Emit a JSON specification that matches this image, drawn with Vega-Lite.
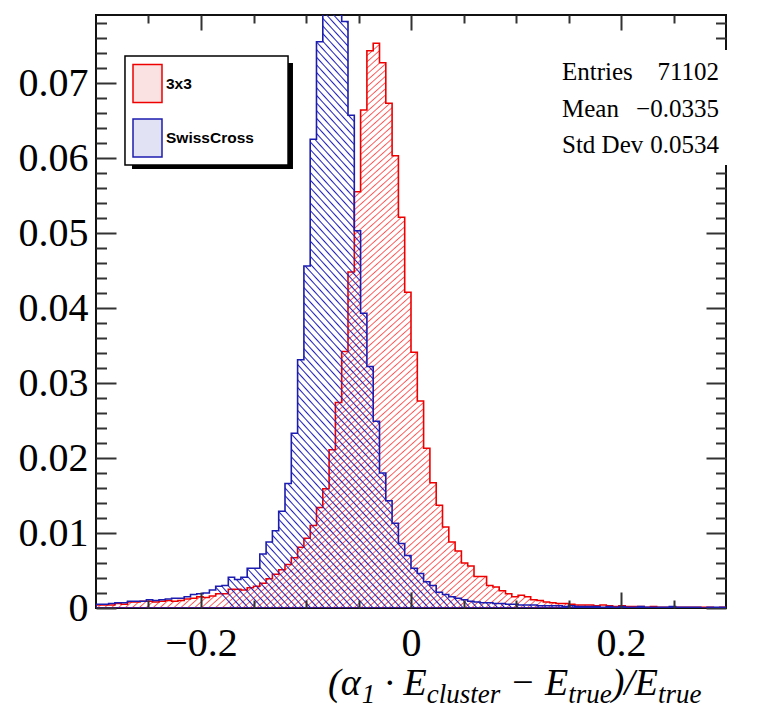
{
"$schema":"https://vega.github.io/schema/vega-lite/v6.json",
"width":630,"height":593,
"autosize":{"type":"none"},
"padding":{"left":96,"top":15,"right":40,"bottom":100},
"config":{"view":{"stroke":"#111","strokeWidth":2},"axis":{"grid":false,"domain":false,"tickColor":"#333","tickWidth":2}},
"datasets":{"stats":[{"stat":"Entries","value":"71102"},{"stat":"Mean","value":"−0.0335"},{"stat":"Std Dev","value":"0.0534"}]},
"data":{"values":[
{"lo":-0.3,"r":0.0004,"s":0.0005},{"lo":-0.294,"r":0.0004,"s":0.0005},{"lo":-0.288,"r":0.0004,"s":0.0006},{"lo":-0.282,"r":0.0006,"s":0.0007},{"lo":-0.276,"r":0.0005,"s":0.0007},
{"lo":-0.27,"r":0.0008,"s":0.0009},{"lo":-0.264,"r":0.0008,"s":0.0009},{"lo":-0.258,"r":0.0009,"s":0.0009},{"lo":-0.252,"r":0.0009,"s":0.0011},{"lo":-0.246,"r":0.0008,"s":0.001},
{"lo":-0.24,"r":0.0009,"s":0.0011},{"lo":-0.234,"r":0.001,"s":0.0012},{"lo":-0.228,"r":0.0009,"s":0.0013},{"lo":-0.222,"r":0.001,"s":0.0013},{"lo":-0.216,"r":0.0012,"s":0.0015},
{"lo":-0.21,"r":0.0013,"s":0.0018},{"lo":-0.204,"r":0.0015,"s":0.0019},{"lo":-0.198,"r":0.0014,"s":0.002},{"lo":-0.192,"r":0.0016,"s":0.0024},{"lo":-0.186,"r":0.0019,"s":0.0029},
{"lo":-0.18,"r":0.0019,"s":0.003},{"lo":-0.174,"r":0.0025,"s":0.0041},{"lo":-0.168,"r":0.0025,"s":0.0038},{"lo":-0.162,"r":0.0024,"s":0.0041},{"lo":-0.156,"r":0.0027,"s":0.0053},
{"lo":-0.15,"r":0.0029,"s":0.0053},{"lo":-0.144,"r":0.0033,"s":0.0072},{"lo":-0.138,"r":0.0039,"s":0.0088},{"lo":-0.132,"r":0.0045,"s":0.0103},{"lo":-0.126,"r":0.0051,"s":0.0129},
{"lo":-0.12,"r":0.0058,"s":0.0166},{"lo":-0.114,"r":0.0067,"s":0.0233},{"lo":-0.108,"r":0.0081,"s":0.0331},{"lo":-0.102,"r":0.0093,"s":0.0456},{"lo":-0.096,"r":0.011,"s":0.0625},
{"lo":-0.09,"r":0.0134,"s":0.0755},{"lo":-0.084,"r":0.0159,"s":0.0865},{"lo":-0.078,"r":0.0211,"s":0.0925},{"lo":-0.072,"r":0.0274,"s":0.089},{"lo":-0.066,"r":0.0342,"s":0.0782},
{"lo":-0.06,"r":0.0448,"s":0.0657},{"lo":-0.054,"r":0.0555,"s":0.0503},{"lo":-0.048,"r":0.0664,"s":0.0393},{"lo":-0.042,"r":0.0743,"s":0.0322},{"lo":-0.036,"r":0.0753,"s":0.0249},
{"lo":-0.03,"r":0.0727,"s":0.018},{"lo":-0.024,"r":0.0673,"s":0.0143},{"lo":-0.018,"r":0.0603,"s":0.0113},{"lo":-0.012,"r":0.0521,"s":0.0086},{"lo":-0.006,"r":0.0421,"s":0.007},
{"lo":0,"r":0.0341,"s":0.0053},{"lo":0.006,"r":0.0276,"s":0.0046},{"lo":0.012,"r":0.0213,"s":0.0035},{"lo":0.018,"r":0.0167,"s":0.003},{"lo":0.024,"r":0.0137,"s":0.0021},
{"lo":0.03,"r":0.0108,"s":0.0018},{"lo":0.036,"r":0.0088,"s":0.0015},{"lo":0.042,"r":0.0076,"s":0.0013},{"lo":0.048,"r":0.006,"s":0.0011},{"lo":0.054,"r":0.0056,"s":0.0009},
{"lo":0.06,"r":0.0042,"s":0.0008},{"lo":0.066,"r":0.0042,"s":0.0007},{"lo":0.072,"r":0.003,"s":0.0007},{"lo":0.078,"r":0.0028,"s":0.0006},{"lo":0.084,"r":0.0023,"s":0.0006},
{"lo":0.09,"r":0.0019,"s":0.0005},{"lo":0.096,"r":0.0015,"s":0.0005},{"lo":0.102,"r":0.0017,"s":0.0004},{"lo":0.108,"r":0.0015,"s":0.0004},{"lo":0.114,"r":0.0011,"s":0.0004},
{"lo":0.12,"r":0.001,"s":0.0003},{"lo":0.126,"r":0.0008,"s":0.0003},{"lo":0.132,"r":0.0007,"s":0.0003},{"lo":0.138,"r":0.0006,"s":0.0003},{"lo":0.144,"r":0.0006,"s":0.0002},
{"lo":0.15,"r":0.0005,"s":0.0003},{"lo":0.156,"r":0.0004,"s":0.0002},{"lo":0.162,"r":0.0004,"s":0.0002},{"lo":0.168,"r":0.0004,"s":0.0002},{"lo":0.174,"r":0.0003,"s":0.0002},
{"lo":0.18,"r":0.0004,"s":0.0001},{"lo":0.186,"r":0.0003,"s":0.0002},{"lo":0.192,"r":0.0002,"s":0.0001},{"lo":0.198,"r":0.0003,"s":0.0002},{"lo":0.204,"r":0.0002,"s":0.0001},
{"lo":0.21,"r":0.0002,"s":0.0001},{"lo":0.216,"r":0.0002,"s":0.0002},{"lo":0.222,"r":0.0001,"s":0.0001},{"lo":0.228,"r":0.0002,"s":0.0001},{"lo":0.234,"r":0.0001,"s":0.0001},
{"lo":0.24,"r":0.0001,"s":0.0001},{"lo":0.246,"r":0.0001,"s":0.0002},{"lo":0.252,"r":0.0001,"s":0.0001},{"lo":0.258,"r":0.0001,"s":0.0001},{"lo":0.264,"r":0.0001,"s":0.0001},
{"lo":0.27,"r":0.0001,"s":0.0001},{"lo":0.276,"r":0.0001,"s":0},{"lo":0.282,"r":0.0001,"s":0.0001},{"lo":0.288,"r":0,"s":0.0001},{"lo":0.294,"r":0.0001,"s":0.0001},
{"lo":0.3,"r":0.0001,"s":0.0001}
]},
"resolve":{"axis":{"x":"independent","y":"independent"}},
"layer":[
{"mark":{"type":"area","interpolate":"step-after","clip":true,"stroke":"#e00","strokeWidth":1.6,
"fill":{"gradient":"linear","x1":0,"y1":0,"x2":1,"y2":1,"stops":[
{"offset":0,"color":"#f550"},
{"offset":0.2139,"color":"#f550"},{"offset":0.215,"color":"#f55"},{"offset":0.2161,"color":"#f550"},
{"offset":0.2194,"color":"#f550"},{"offset":0.2205,"color":"#f55"},{"offset":0.2216,"color":"#f550"},
{"offset":0.2249,"color":"#f550"},{"offset":0.226,"color":"#f55"},{"offset":0.2271,"color":"#f550"},
{"offset":0.2304,"color":"#f550"},{"offset":0.2315,"color":"#f55"},{"offset":0.2326,"color":"#f550"},
{"offset":0.2359,"color":"#f550"},{"offset":0.237,"color":"#f55"},{"offset":0.2381,"color":"#f550"},
{"offset":0.2414,"color":"#f550"},{"offset":0.2425,"color":"#f55"},{"offset":0.2436,"color":"#f550"},
{"offset":0.2469,"color":"#f550"},{"offset":0.248,"color":"#f55"},{"offset":0.2491,"color":"#f550"},
{"offset":0.2524,"color":"#f550"},{"offset":0.2535,"color":"#f55"},{"offset":0.2546,"color":"#f550"},
{"offset":0.2579,"color":"#f550"},{"offset":0.259,"color":"#f55"},{"offset":0.2601,"color":"#f550"},
{"offset":0.2634,"color":"#f550"},{"offset":0.2645,"color":"#f55"},{"offset":0.2656,"color":"#f550"},
{"offset":0.2689,"color":"#f550"},{"offset":0.27,"color":"#f55"},{"offset":0.2711,"color":"#f550"},
{"offset":0.2744,"color":"#f550"},{"offset":0.2755,"color":"#f55"},{"offset":0.2766,"color":"#f550"},
{"offset":0.2799,"color":"#f550"},{"offset":0.281,"color":"#f55"},{"offset":0.2821,"color":"#f550"},
{"offset":0.2854,"color":"#f550"},{"offset":0.2865,"color":"#f55"},{"offset":0.2876,"color":"#f550"},
{"offset":0.2909,"color":"#f550"},{"offset":0.292,"color":"#f55"},{"offset":0.2931,"color":"#f550"},
{"offset":0.2964,"color":"#f550"},{"offset":0.2975,"color":"#f55"},{"offset":0.2986,"color":"#f550"},
{"offset":0.3019,"color":"#f550"},{"offset":0.303,"color":"#f55"},{"offset":0.3041,"color":"#f550"},
{"offset":0.3074,"color":"#f550"},{"offset":0.3085,"color":"#f55"},{"offset":0.3096,"color":"#f550"},
{"offset":0.3129,"color":"#f550"},{"offset":0.314,"color":"#f55"},{"offset":0.3151,"color":"#f550"},
{"offset":0.3184,"color":"#f550"},{"offset":0.3195,"color":"#f55"},{"offset":0.3206,"color":"#f550"},
{"offset":0.3239,"color":"#f550"},{"offset":0.325,"color":"#f55"},{"offset":0.3261,"color":"#f550"},
{"offset":0.3294,"color":"#f550"},{"offset":0.3305,"color":"#f55"},{"offset":0.3316,"color":"#f550"},
{"offset":0.3349,"color":"#f550"},{"offset":0.336,"color":"#f55"},{"offset":0.3371,"color":"#f550"},
{"offset":0.3404,"color":"#f550"},{"offset":0.3415,"color":"#f55"},{"offset":0.3426,"color":"#f550"},
{"offset":0.3459,"color":"#f550"},{"offset":0.347,"color":"#f55"},{"offset":0.3481,"color":"#f550"},
{"offset":0.3514,"color":"#f550"},{"offset":0.3525,"color":"#f55"},{"offset":0.3536,"color":"#f550"},
{"offset":0.3569,"color":"#f550"},{"offset":0.358,"color":"#f55"},{"offset":0.3591,"color":"#f550"},
{"offset":0.3624,"color":"#f550"},{"offset":0.3635,"color":"#f55"},{"offset":0.3646,"color":"#f550"},
{"offset":0.3679,"color":"#f550"},{"offset":0.369,"color":"#f55"},{"offset":0.3701,"color":"#f550"},
{"offset":0.3734,"color":"#f550"},{"offset":0.3745,"color":"#f55"},{"offset":0.3756,"color":"#f550"},
{"offset":0.3789,"color":"#f550"},{"offset":0.38,"color":"#f55"},{"offset":0.3811,"color":"#f550"},
{"offset":0.3844,"color":"#f550"},{"offset":0.3855,"color":"#f55"},{"offset":0.3866,"color":"#f550"},
{"offset":0.3899,"color":"#f550"},{"offset":0.391,"color":"#f55"},{"offset":0.3921,"color":"#f550"},
{"offset":0.3954,"color":"#f550"},{"offset":0.3965,"color":"#f55"},{"offset":0.3976,"color":"#f550"},
{"offset":0.4009,"color":"#f550"},{"offset":0.402,"color":"#f55"},{"offset":0.4031,"color":"#f550"},
{"offset":0.4064,"color":"#f550"},{"offset":0.4075,"color":"#f55"},{"offset":0.4086,"color":"#f550"},
{"offset":0.4119,"color":"#f550"},{"offset":0.413,"color":"#f55"},{"offset":0.4141,"color":"#f550"},
{"offset":0.4174,"color":"#f550"},{"offset":0.4185,"color":"#f55"},{"offset":0.4196,"color":"#f550"},
{"offset":0.4229,"color":"#f550"},{"offset":0.424,"color":"#f55"},{"offset":0.4251,"color":"#f550"},
{"offset":0.4284,"color":"#f550"},{"offset":0.4295,"color":"#f55"},{"offset":0.4306,"color":"#f550"},
{"offset":0.4339,"color":"#f550"},{"offset":0.435,"color":"#f55"},{"offset":0.4361,"color":"#f550"},
{"offset":0.4394,"color":"#f550"},{"offset":0.4405,"color":"#f55"},{"offset":0.4416,"color":"#f550"},
{"offset":0.4449,"color":"#f550"},{"offset":0.446,"color":"#f55"},{"offset":0.4471,"color":"#f550"},
{"offset":0.4504,"color":"#f550"},{"offset":0.4515,"color":"#f55"},{"offset":0.4526,"color":"#f550"},
{"offset":0.4559,"color":"#f550"},{"offset":0.457,"color":"#f55"},{"offset":0.4581,"color":"#f550"},
{"offset":0.4614,"color":"#f550"},{"offset":0.4625,"color":"#f55"},{"offset":0.4636,"color":"#f550"},
{"offset":0.4669,"color":"#f550"},{"offset":0.468,"color":"#f55"},{"offset":0.4691,"color":"#f550"},
{"offset":0.4724,"color":"#f550"},{"offset":0.4735,"color":"#f55"},{"offset":0.4746,"color":"#f550"},
{"offset":0.4779,"color":"#f550"},{"offset":0.479,"color":"#f55"},{"offset":0.4801,"color":"#f550"},
{"offset":0.4834,"color":"#f550"},{"offset":0.4845,"color":"#f55"},{"offset":0.4856,"color":"#f550"},
{"offset":0.4889,"color":"#f550"},{"offset":0.49,"color":"#f55"},{"offset":0.4911,"color":"#f550"},
{"offset":0.4944,"color":"#f550"},{"offset":0.4955,"color":"#f55"},{"offset":0.4966,"color":"#f550"},
{"offset":0.4999,"color":"#f550"},{"offset":0.501,"color":"#f55"},{"offset":0.5021,"color":"#f550"},
{"offset":0.5054,"color":"#f550"},{"offset":0.5065,"color":"#f55"},{"offset":0.5076,"color":"#f550"},
{"offset":0.5109,"color":"#f550"},{"offset":0.512,"color":"#f55"},{"offset":0.5131,"color":"#f550"},
{"offset":0.5164,"color":"#f550"},{"offset":0.5175,"color":"#f55"},{"offset":0.5186,"color":"#f550"},
{"offset":0.5219,"color":"#f550"},{"offset":0.523,"color":"#f55"},{"offset":0.5241,"color":"#f550"},
{"offset":0.5274,"color":"#f550"},{"offset":0.5285,"color":"#f55"},{"offset":0.5296,"color":"#f550"},
{"offset":0.5329,"color":"#f550"},{"offset":0.534,"color":"#f55"},{"offset":0.5351,"color":"#f550"},
{"offset":0.5384,"color":"#f550"},{"offset":0.5395,"color":"#f55"},{"offset":0.5406,"color":"#f550"},
{"offset":0.5439,"color":"#f550"},{"offset":0.545,"color":"#f55"},{"offset":0.5461,"color":"#f550"},
{"offset":0.5494,"color":"#f550"},{"offset":0.5505,"color":"#f55"},{"offset":0.5516,"color":"#f550"},
{"offset":0.5549,"color":"#f550"},{"offset":0.556,"color":"#f55"},{"offset":0.5571,"color":"#f550"},
{"offset":0.5604,"color":"#f550"},{"offset":0.5615,"color":"#f55"},{"offset":0.5626,"color":"#f550"},
{"offset":0.5659,"color":"#f550"},{"offset":0.567,"color":"#f55"},{"offset":0.5681,"color":"#f550"},
{"offset":0.5714,"color":"#f550"},{"offset":0.5725,"color":"#f55"},{"offset":0.5736,"color":"#f550"},
{"offset":0.5769,"color":"#f550"},{"offset":0.578,"color":"#f55"},{"offset":0.5791,"color":"#f550"},
{"offset":0.5824,"color":"#f550"},{"offset":0.5835,"color":"#f55"},{"offset":0.5846,"color":"#f550"},
{"offset":0.5879,"color":"#f550"},{"offset":0.589,"color":"#f55"},{"offset":0.5901,"color":"#f550"},
{"offset":0.5934,"color":"#f550"},{"offset":0.5945,"color":"#f55"},{"offset":0.5956,"color":"#f550"},
{"offset":0.5989,"color":"#f550"},{"offset":0.6,"color":"#f55"},{"offset":0.6011,"color":"#f550"},
{"offset":0.6044,"color":"#f550"},{"offset":0.6055,"color":"#f55"},{"offset":0.6066,"color":"#f550"},
{"offset":0.6099,"color":"#f550"},{"offset":0.611,"color":"#f55"},{"offset":0.6121,"color":"#f550"},
{"offset":0.6154,"color":"#f550"},{"offset":0.6165,"color":"#f55"},{"offset":0.6176,"color":"#f550"},
{"offset":0.6209,"color":"#f550"},{"offset":0.622,"color":"#f55"},{"offset":0.6231,"color":"#f550"},
{"offset":0.6264,"color":"#f550"},{"offset":0.6275,"color":"#f55"},{"offset":0.6286,"color":"#f550"},
{"offset":0.6319,"color":"#f550"},{"offset":0.633,"color":"#f55"},{"offset":0.6341,"color":"#f550"},
{"offset":0.6374,"color":"#f550"},{"offset":0.6385,"color":"#f55"},{"offset":0.6396,"color":"#f550"},
{"offset":0.6429,"color":"#f550"},{"offset":0.644,"color":"#f55"},{"offset":0.6451,"color":"#f550"},
{"offset":0.6484,"color":"#f550"},{"offset":0.6495,"color":"#f55"},{"offset":0.6506,"color":"#f550"},
{"offset":0.6539,"color":"#f550"},{"offset":0.655,"color":"#f55"},{"offset":0.6561,"color":"#f550"},
{"offset":0.6594,"color":"#f550"},{"offset":0.6605,"color":"#f55"},{"offset":0.6616,"color":"#f550"},
{"offset":0.6649,"color":"#f550"},{"offset":0.666,"color":"#f55"},{"offset":0.6671,"color":"#f550"},
{"offset":0.6704,"color":"#f550"},{"offset":0.6715,"color":"#f55"},{"offset":0.6726,"color":"#f550"},
{"offset":0.6759,"color":"#f550"},{"offset":0.677,"color":"#f55"},{"offset":0.6781,"color":"#f550"},
{"offset":0.6814,"color":"#f550"},{"offset":0.6825,"color":"#f55"},{"offset":0.6836,"color":"#f550"},
{"offset":0.6869,"color":"#f550"},{"offset":0.688,"color":"#f55"},{"offset":0.6891,"color":"#f550"},
{"offset":0.6924,"color":"#f550"},{"offset":0.6935,"color":"#f55"},{"offset":0.6946,"color":"#f550"},
{"offset":0.6979,"color":"#f550"},{"offset":0.699,"color":"#f55"},{"offset":0.7001,"color":"#f550"},
{"offset":0.7034,"color":"#f550"},{"offset":0.7045,"color":"#f55"},{"offset":0.7056,"color":"#f550"},
{"offset":0.7089,"color":"#f550"},{"offset":0.71,"color":"#f55"},{"offset":0.7111,"color":"#f550"},
{"offset":0.7144,"color":"#f550"},{"offset":0.7155,"color":"#f55"},{"offset":0.7166,"color":"#f550"},
{"offset":0.7199,"color":"#f550"},{"offset":0.721,"color":"#f55"},{"offset":0.7221,"color":"#f550"},
{"offset":0.7254,"color":"#f550"},{"offset":0.7265,"color":"#f55"},{"offset":0.7276,"color":"#f550"},
{"offset":0.7309,"color":"#f550"},{"offset":0.732,"color":"#f55"},{"offset":0.7331,"color":"#f550"},
{"offset":0.7364,"color":"#f550"},{"offset":0.7375,"color":"#f55"},{"offset":0.7386,"color":"#f550"},
{"offset":0.7419,"color":"#f550"},{"offset":0.743,"color":"#f55"},{"offset":0.7441,"color":"#f550"},
{"offset":0.7474,"color":"#f550"},{"offset":0.7485,"color":"#f55"},{"offset":0.7496,"color":"#f550"},
{"offset":0.7529,"color":"#f550"},{"offset":0.754,"color":"#f55"},{"offset":0.7551,"color":"#f550"},
{"offset":0.7584,"color":"#f550"},{"offset":0.7595,"color":"#f55"},{"offset":0.7606,"color":"#f550"},
{"offset":0.7639,"color":"#f550"},{"offset":0.765,"color":"#f55"},{"offset":0.7661,"color":"#f550"},
{"offset":0.7694,"color":"#f550"},{"offset":0.7705,"color":"#f55"},{"offset":0.7716,"color":"#f550"},
{"offset":0.7749,"color":"#f550"},{"offset":0.776,"color":"#f55"},{"offset":0.7771,"color":"#f550"},
{"offset":0.7804,"color":"#f550"},{"offset":0.7815,"color":"#f55"},{"offset":0.7826,"color":"#f550"},
{"offset":0.7859,"color":"#f550"},{"offset":0.787,"color":"#f55"},{"offset":0.7881,"color":"#f550"},
{"offset":0.7914,"color":"#f550"},{"offset":0.7925,"color":"#f55"},{"offset":0.7936,"color":"#f550"},
{"offset":0.7969,"color":"#f550"},{"offset":0.798,"color":"#f55"},{"offset":0.7991,"color":"#f550"},
{"offset":0.8024,"color":"#f550"},{"offset":0.8035,"color":"#f55"},{"offset":0.8046,"color":"#f550"},
{"offset":0.8079,"color":"#f550"},{"offset":0.809,"color":"#f55"},{"offset":0.8101,"color":"#f550"},
{"offset":0.8134,"color":"#f550"},{"offset":0.8145,"color":"#f55"},{"offset":0.8156,"color":"#f550"},
{"offset":0.8189,"color":"#f550"},{"offset":0.82,"color":"#f55"},{"offset":0.8211,"color":"#f550"},
{"offset":0.8244,"color":"#f550"},{"offset":0.8255,"color":"#f55"},{"offset":0.8266,"color":"#f550"},
{"offset":0.8299,"color":"#f550"},{"offset":0.831,"color":"#f55"},{"offset":0.8321,"color":"#f550"},
{"offset":0.8354,"color":"#f550"},{"offset":0.8365,"color":"#f55"},{"offset":0.8376,"color":"#f550"},
{"offset":0.8409,"color":"#f550"},{"offset":0.842,"color":"#f55"},{"offset":0.8431,"color":"#f550"},
{"offset":0.8464,"color":"#f550"},{"offset":0.8475,"color":"#f55"},{"offset":0.8486,"color":"#f550"},
{"offset":0.8519,"color":"#f550"},{"offset":0.853,"color":"#f55"},{"offset":0.8541,"color":"#f550"},
{"offset":0.8574,"color":"#f550"},{"offset":0.8585,"color":"#f55"},{"offset":0.8596,"color":"#f550"},
{"offset":0.8629,"color":"#f550"},{"offset":0.864,"color":"#f55"},{"offset":0.8651,"color":"#f550"},
{"offset":0.8684,"color":"#f550"},{"offset":0.8695,"color":"#f55"},{"offset":0.8706,"color":"#f550"},
{"offset":0.8739,"color":"#f550"},{"offset":0.875,"color":"#f55"},{"offset":0.8761,"color":"#f550"},
{"offset":0.8794,"color":"#f550"},{"offset":0.8805,"color":"#f55"},{"offset":0.8816,"color":"#f550"},
{"offset":0.8849,"color":"#f550"},{"offset":0.886,"color":"#f55"},{"offset":0.8871,"color":"#f550"},
{"offset":0.8904,"color":"#f550"},{"offset":0.8915,"color":"#f55"},{"offset":0.8926,"color":"#f550"},
{"offset":0.8959,"color":"#f550"},{"offset":0.897,"color":"#f55"},{"offset":0.8981,"color":"#f550"},
{"offset":1,"color":"#f550"}]}},
"encoding":{
"x":{"field":"lo","type":"quantitative","scale":{"domain":[-0.3,0.3],"nice":false,"zero":false},"axis":{"orient":"bottom","values":[-0.2,0,0.2],"format":"~g","ticks":false,"labelFont":"Liberation Serif","labelFontSize":40,"labelColor":"#000","labelPadding":15.4,"labelFlush":false,"title":null}},
"y":{"field":"r","type":"quantitative","stack":null,"scale":{"domain":[0,0.07907],"nice":false,"zero":true},"axis":{"orient":"left","values":[0,0.01,0.02,0.03,0.04,0.05,0.06,0.07],"format":".2~f","ticks":false,"labelFont":"Liberation Serif","labelFontSize":40,"labelColor":"#000","labelPadding":8,"title":null}}}},
{"mark":{"type":"area","interpolate":"step-after","clip":true,"stroke":"#1c1cb0","strokeWidth":1.6,
"fill":{"gradient":"linear","x1":0,"y1":1,"x2":1,"y2":0,"stops":[
{"offset":0,"color":"#22b0"},
{"offset":0.1089,"color":"#22b0"},{"offset":0.11,"color":"#22b"},{"offset":0.1111,"color":"#22b0"},
{"offset":0.1144,"color":"#22b0"},{"offset":0.1155,"color":"#22b"},{"offset":0.1166,"color":"#22b0"},
{"offset":0.1199,"color":"#22b0"},{"offset":0.121,"color":"#22b"},{"offset":0.1221,"color":"#22b0"},
{"offset":0.1254,"color":"#22b0"},{"offset":0.1265,"color":"#22b"},{"offset":0.1276,"color":"#22b0"},
{"offset":0.1309,"color":"#22b0"},{"offset":0.132,"color":"#22b"},{"offset":0.1331,"color":"#22b0"},
{"offset":0.1364,"color":"#22b0"},{"offset":0.1375,"color":"#22b"},{"offset":0.1386,"color":"#22b0"},
{"offset":0.1419,"color":"#22b0"},{"offset":0.143,"color":"#22b"},{"offset":0.1441,"color":"#22b0"},
{"offset":0.1474,"color":"#22b0"},{"offset":0.1485,"color":"#22b"},{"offset":0.1496,"color":"#22b0"},
{"offset":0.1529,"color":"#22b0"},{"offset":0.154,"color":"#22b"},{"offset":0.1551,"color":"#22b0"},
{"offset":0.1584,"color":"#22b0"},{"offset":0.1595,"color":"#22b"},{"offset":0.1606,"color":"#22b0"},
{"offset":0.1639,"color":"#22b0"},{"offset":0.165,"color":"#22b"},{"offset":0.1661,"color":"#22b0"},
{"offset":0.1694,"color":"#22b0"},{"offset":0.1705,"color":"#22b"},{"offset":0.1716,"color":"#22b0"},
{"offset":0.1749,"color":"#22b0"},{"offset":0.176,"color":"#22b"},{"offset":0.1771,"color":"#22b0"},
{"offset":0.1804,"color":"#22b0"},{"offset":0.1815,"color":"#22b"},{"offset":0.1826,"color":"#22b0"},
{"offset":0.1859,"color":"#22b0"},{"offset":0.187,"color":"#22b"},{"offset":0.1881,"color":"#22b0"},
{"offset":0.1914,"color":"#22b0"},{"offset":0.1925,"color":"#22b"},{"offset":0.1936,"color":"#22b0"},
{"offset":0.1969,"color":"#22b0"},{"offset":0.198,"color":"#22b"},{"offset":0.1991,"color":"#22b0"},
{"offset":0.2024,"color":"#22b0"},{"offset":0.2035,"color":"#22b"},{"offset":0.2046,"color":"#22b0"},
{"offset":0.2079,"color":"#22b0"},{"offset":0.209,"color":"#22b"},{"offset":0.2101,"color":"#22b0"},
{"offset":0.2134,"color":"#22b0"},{"offset":0.2145,"color":"#22b"},{"offset":0.2156,"color":"#22b0"},
{"offset":0.2189,"color":"#22b0"},{"offset":0.22,"color":"#22b"},{"offset":0.2211,"color":"#22b0"},
{"offset":0.2244,"color":"#22b0"},{"offset":0.2255,"color":"#22b"},{"offset":0.2266,"color":"#22b0"},
{"offset":0.2299,"color":"#22b0"},{"offset":0.231,"color":"#22b"},{"offset":0.2321,"color":"#22b0"},
{"offset":0.2354,"color":"#22b0"},{"offset":0.2365,"color":"#22b"},{"offset":0.2376,"color":"#22b0"},
{"offset":0.2409,"color":"#22b0"},{"offset":0.242,"color":"#22b"},{"offset":0.2431,"color":"#22b0"},
{"offset":0.2464,"color":"#22b0"},{"offset":0.2475,"color":"#22b"},{"offset":0.2486,"color":"#22b0"},
{"offset":0.2519,"color":"#22b0"},{"offset":0.253,"color":"#22b"},{"offset":0.2541,"color":"#22b0"},
{"offset":0.2574,"color":"#22b0"},{"offset":0.2585,"color":"#22b"},{"offset":0.2596,"color":"#22b0"},
{"offset":0.2629,"color":"#22b0"},{"offset":0.264,"color":"#22b"},{"offset":0.2651,"color":"#22b0"},
{"offset":0.2684,"color":"#22b0"},{"offset":0.2695,"color":"#22b"},{"offset":0.2706,"color":"#22b0"},
{"offset":0.2739,"color":"#22b0"},{"offset":0.275,"color":"#22b"},{"offset":0.2761,"color":"#22b0"},
{"offset":0.2794,"color":"#22b0"},{"offset":0.2805,"color":"#22b"},{"offset":0.2816,"color":"#22b0"},
{"offset":0.2849,"color":"#22b0"},{"offset":0.286,"color":"#22b"},{"offset":0.2871,"color":"#22b0"},
{"offset":0.2904,"color":"#22b0"},{"offset":0.2915,"color":"#22b"},{"offset":0.2926,"color":"#22b0"},
{"offset":0.2959,"color":"#22b0"},{"offset":0.297,"color":"#22b"},{"offset":0.2981,"color":"#22b0"},
{"offset":0.3014,"color":"#22b0"},{"offset":0.3025,"color":"#22b"},{"offset":0.3036,"color":"#22b0"},
{"offset":0.3069,"color":"#22b0"},{"offset":0.308,"color":"#22b"},{"offset":0.3091,"color":"#22b0"},
{"offset":0.3124,"color":"#22b0"},{"offset":0.3135,"color":"#22b"},{"offset":0.3146,"color":"#22b0"},
{"offset":0.3179,"color":"#22b0"},{"offset":0.319,"color":"#22b"},{"offset":0.3201,"color":"#22b0"},
{"offset":0.3234,"color":"#22b0"},{"offset":0.3245,"color":"#22b"},{"offset":0.3256,"color":"#22b0"},
{"offset":0.3289,"color":"#22b0"},{"offset":0.33,"color":"#22b"},{"offset":0.3311,"color":"#22b0"},
{"offset":0.3344,"color":"#22b0"},{"offset":0.3355,"color":"#22b"},{"offset":0.3366,"color":"#22b0"},
{"offset":0.3399,"color":"#22b0"},{"offset":0.341,"color":"#22b"},{"offset":0.3421,"color":"#22b0"},
{"offset":0.3454,"color":"#22b0"},{"offset":0.3465,"color":"#22b"},{"offset":0.3476,"color":"#22b0"},
{"offset":0.3509,"color":"#22b0"},{"offset":0.352,"color":"#22b"},{"offset":0.3531,"color":"#22b0"},
{"offset":0.3564,"color":"#22b0"},{"offset":0.3575,"color":"#22b"},{"offset":0.3586,"color":"#22b0"},
{"offset":0.3619,"color":"#22b0"},{"offset":0.363,"color":"#22b"},{"offset":0.3641,"color":"#22b0"},
{"offset":0.3674,"color":"#22b0"},{"offset":0.3685,"color":"#22b"},{"offset":0.3696,"color":"#22b0"},
{"offset":0.3729,"color":"#22b0"},{"offset":0.374,"color":"#22b"},{"offset":0.3751,"color":"#22b0"},
{"offset":0.3784,"color":"#22b0"},{"offset":0.3795,"color":"#22b"},{"offset":0.3806,"color":"#22b0"},
{"offset":0.3839,"color":"#22b0"},{"offset":0.385,"color":"#22b"},{"offset":0.3861,"color":"#22b0"},
{"offset":0.3894,"color":"#22b0"},{"offset":0.3905,"color":"#22b"},{"offset":0.3916,"color":"#22b0"},
{"offset":0.3949,"color":"#22b0"},{"offset":0.396,"color":"#22b"},{"offset":0.3971,"color":"#22b0"},
{"offset":0.4004,"color":"#22b0"},{"offset":0.4015,"color":"#22b"},{"offset":0.4026,"color":"#22b0"},
{"offset":0.4059,"color":"#22b0"},{"offset":0.407,"color":"#22b"},{"offset":0.4081,"color":"#22b0"},
{"offset":0.4114,"color":"#22b0"},{"offset":0.4125,"color":"#22b"},{"offset":0.4136,"color":"#22b0"},
{"offset":0.4169,"color":"#22b0"},{"offset":0.418,"color":"#22b"},{"offset":0.4191,"color":"#22b0"},
{"offset":0.4224,"color":"#22b0"},{"offset":0.4235,"color":"#22b"},{"offset":0.4246,"color":"#22b0"},
{"offset":0.4279,"color":"#22b0"},{"offset":0.429,"color":"#22b"},{"offset":0.4301,"color":"#22b0"},
{"offset":0.4334,"color":"#22b0"},{"offset":0.4345,"color":"#22b"},{"offset":0.4356,"color":"#22b0"},
{"offset":0.4389,"color":"#22b0"},{"offset":0.44,"color":"#22b"},{"offset":0.4411,"color":"#22b0"},
{"offset":0.4444,"color":"#22b0"},{"offset":0.4455,"color":"#22b"},{"offset":0.4466,"color":"#22b0"},
{"offset":0.4499,"color":"#22b0"},{"offset":0.451,"color":"#22b"},{"offset":0.4521,"color":"#22b0"},
{"offset":0.4554,"color":"#22b0"},{"offset":0.4565,"color":"#22b"},{"offset":0.4576,"color":"#22b0"},
{"offset":0.4609,"color":"#22b0"},{"offset":0.462,"color":"#22b"},{"offset":0.4631,"color":"#22b0"},
{"offset":0.4664,"color":"#22b0"},{"offset":0.4675,"color":"#22b"},{"offset":0.4686,"color":"#22b0"},
{"offset":0.4719,"color":"#22b0"},{"offset":0.473,"color":"#22b"},{"offset":0.4741,"color":"#22b0"},
{"offset":0.4774,"color":"#22b0"},{"offset":0.4785,"color":"#22b"},{"offset":0.4796,"color":"#22b0"},
{"offset":0.4829,"color":"#22b0"},{"offset":0.484,"color":"#22b"},{"offset":0.4851,"color":"#22b0"},
{"offset":0.4884,"color":"#22b0"},{"offset":0.4895,"color":"#22b"},{"offset":0.4906,"color":"#22b0"},
{"offset":0.4939,"color":"#22b0"},{"offset":0.495,"color":"#22b"},{"offset":0.4961,"color":"#22b0"},
{"offset":0.4994,"color":"#22b0"},{"offset":0.5005,"color":"#22b"},{"offset":0.5016,"color":"#22b0"},
{"offset":0.5049,"color":"#22b0"},{"offset":0.506,"color":"#22b"},{"offset":0.5071,"color":"#22b0"},
{"offset":0.5104,"color":"#22b0"},{"offset":0.5115,"color":"#22b"},{"offset":0.5126,"color":"#22b0"},
{"offset":0.5159,"color":"#22b0"},{"offset":0.517,"color":"#22b"},{"offset":0.5181,"color":"#22b0"},
{"offset":0.5214,"color":"#22b0"},{"offset":0.5225,"color":"#22b"},{"offset":0.5236,"color":"#22b0"},
{"offset":0.5269,"color":"#22b0"},{"offset":0.528,"color":"#22b"},{"offset":0.5291,"color":"#22b0"},
{"offset":0.5324,"color":"#22b0"},{"offset":0.5335,"color":"#22b"},{"offset":0.5346,"color":"#22b0"},
{"offset":0.5379,"color":"#22b0"},{"offset":0.539,"color":"#22b"},{"offset":0.5401,"color":"#22b0"},
{"offset":0.5434,"color":"#22b0"},{"offset":0.5445,"color":"#22b"},{"offset":0.5456,"color":"#22b0"},
{"offset":0.5489,"color":"#22b0"},{"offset":0.55,"color":"#22b"},{"offset":0.5511,"color":"#22b0"},
{"offset":0.5544,"color":"#22b0"},{"offset":0.5555,"color":"#22b"},{"offset":0.5566,"color":"#22b0"},
{"offset":0.5599,"color":"#22b0"},{"offset":0.561,"color":"#22b"},{"offset":0.5621,"color":"#22b0"},
{"offset":0.5654,"color":"#22b0"},{"offset":0.5665,"color":"#22b"},{"offset":0.5676,"color":"#22b0"},
{"offset":0.5709,"color":"#22b0"},{"offset":0.572,"color":"#22b"},{"offset":0.5731,"color":"#22b0"},
{"offset":0.5764,"color":"#22b0"},{"offset":0.5775,"color":"#22b"},{"offset":0.5786,"color":"#22b0"},
{"offset":0.5819,"color":"#22b0"},{"offset":0.583,"color":"#22b"},{"offset":0.5841,"color":"#22b0"},
{"offset":0.5874,"color":"#22b0"},{"offset":0.5885,"color":"#22b"},{"offset":0.5896,"color":"#22b0"},
{"offset":0.5929,"color":"#22b0"},{"offset":0.594,"color":"#22b"},{"offset":0.5951,"color":"#22b0"},
{"offset":0.5984,"color":"#22b0"},{"offset":0.5995,"color":"#22b"},{"offset":0.6006,"color":"#22b0"},
{"offset":0.6039,"color":"#22b0"},{"offset":0.605,"color":"#22b"},{"offset":0.6061,"color":"#22b0"},
{"offset":0.6094,"color":"#22b0"},{"offset":0.6105,"color":"#22b"},{"offset":0.6116,"color":"#22b0"},
{"offset":0.6149,"color":"#22b0"},{"offset":0.616,"color":"#22b"},{"offset":0.6171,"color":"#22b0"},
{"offset":0.6204,"color":"#22b0"},{"offset":0.6215,"color":"#22b"},{"offset":0.6226,"color":"#22b0"},
{"offset":0.6259,"color":"#22b0"},{"offset":0.627,"color":"#22b"},{"offset":0.6281,"color":"#22b0"},
{"offset":0.6314,"color":"#22b0"},{"offset":0.6325,"color":"#22b"},{"offset":0.6336,"color":"#22b0"},
{"offset":0.6369,"color":"#22b0"},{"offset":0.638,"color":"#22b"},{"offset":0.6391,"color":"#22b0"},
{"offset":0.6424,"color":"#22b0"},{"offset":0.6435,"color":"#22b"},{"offset":0.6446,"color":"#22b0"},
{"offset":0.6479,"color":"#22b0"},{"offset":0.649,"color":"#22b"},{"offset":0.6501,"color":"#22b0"},
{"offset":1,"color":"#22b0"}]}},
"encoding":{
"x":{"field":"lo","type":"quantitative","axis":{"orient":"bottom","values":[-0.2,0,0.2],"labels":false,"tickSize":-16,"zindex":1,"title":null}},
"y":{"field":"s","type":"quantitative","stack":null,"axis":{"orient":"left","values":[0,0.01,0.02,0.03,0.04,0.05,0.06,0.07],"labels":false,"tickSize":-20,"zindex":1,"title":null}}}},
{"data":{"values":[{"k":"3x3"},{"k":"SwissCross"}]},
"mark":{"type":"point","filled":true,"opacity":0},
"encoding":{
"x":{"datum":0,"axis":{"orient":"bottom","values":[-0.25,-0.15,-0.1,-0.05,0.05,0.1,0.15,0.25],"labels":false,"tickSize":-8,"zindex":1,"title":null}},
"y":{"datum":0.01,"axis":{"orient":"left","values":[0.002,0.004,0.006,0.008,0.012,0.014,0.016,0.018,0.022,0.024,0.026,0.028,0.032,0.034,0.036,0.038,0.042,0.044,0.046,0.048,0.052,0.054,0.056,0.058,0.062,0.064,0.066,0.068,0.072,0.074,0.076,0.078],"labels":false,"tickSize":-10.5,"zindex":1,"title":null}},
"fill":{"field":"k","type":"nominal","scale":{"domain":["3x3","SwissCross"],"range":["#fbe2e2","#e2e2f5"]},
"legend":{"orient":"none","legendX":29,"legendY":46,"direction":"vertical","title":null,"padding":7,"symbolType":"M-1,-1.31H1V1.31H-1Z","symbolSize":841,"symbolStrokeWidth":1.5,"symbolOpacity":1,"labelFont":"Liberation Sans","labelFontWeight":"bold","labelFontSize":15.5,"labelColor":"#000","labelOffset":3,"rowPadding":9.5,"zindex":1}},
"stroke":{"field":"k","type":"nominal","scale":{"domain":["3x3","SwissCross"],"range":["#e00","#1c1cb0"]},
"legend":{"orient":"none","legendX":29,"legendY":46,"direction":"vertical","title":null,"padding":7,"symbolType":"M-1,-1.31H1V1.31H-1Z","symbolSize":841,"symbolStrokeWidth":1.5,"symbolOpacity":1,"labelFont":"Liberation Sans","labelFontWeight":"bold","labelFontSize":15.5,"labelColor":"#000","labelOffset":3,"rowPadding":9.5,"zindex":1}}}},
{"data":{"values":[{}]},
"mark":{"type":"rect","fill":"#fff"},
"encoding":{
"x":{"datum":0.1305,"axis":{"orient":"top","values":[-0.2,0,0.2],"labels":false,"tickSize":-15,"zindex":1,"title":null}},
"x2":{"datum":0.3133},
"y":{"datum":0.05907,"axis":{"orient":"right","values":[0,0.01,0.02,0.03,0.04,0.05,0.06,0.07],"labels":false,"tickSize":-20,"title":null}},
"y2":{"datum":0.0744}}},
{"data":{"values":[{}]},
"mark":{"type":"rect","fill":"#000"},
"encoding":{
"x":{"datum":-0.2657,"axis":{"orient":"top","values":[-0.25,-0.15,-0.1,-0.05,0.05,0.1,0.15,0.25],"labels":false,"tickSize":-8,"zindex":1,"title":null}},
"x2":{"datum":-0.1124},
"y":{"datum":0.05853,"axis":{"orient":"right","values":[0.002,0.004,0.006,0.008,0.012,0.014,0.016,0.018,0.022,0.024,0.026,0.028,0.032,0.034,0.036,0.038,0.042,0.044,0.046,0.048,0.052,0.054,0.056,0.058,0.062,0.064,0.066,0.068,0.072,0.074,0.076,0.078],"labels":false,"tickSize":-10.5,"title":null}},
"y2":{"datum":0.07267}}},
{"data":{"values":[{}]},
"mark":{"type":"rect","fill":"#fff","stroke":"#000","strokeWidth":1.5},
"encoding":{
"x":{"datum":-0.2724,"axis":null},
"x2":{"datum":-0.1171},
"y":{"datum":0.05907,"axis":null},
"y2":{"datum":0.0736}}},
{"data":{"name":"stats"},
"layer":[
{"transform":[{"filter":"datum.stat==='Entries'"}],"encoding":{"y":{"datum":0.0704,"axis":null}},"layer":[
{"mark":{"type":"text","align":"left","baseline":"alphabetic","font":"Liberation Serif","fontSize":25,"color":"#000"},"encoding":{"x":{"datum":0.1438,"axis":null},"text":{"field":"stat"}}},
{"mark":{"type":"text","align":"right","baseline":"alphabetic","font":"Liberation Serif","fontSize":25,"color":"#000"},"encoding":{"x":{"datum":0.2933,"axis":null},"text":{"field":"value"}}}]},
{"transform":[{"filter":"datum.stat==='Mean'"}],"encoding":{"y":{"datum":0.06543,"axis":null}},"layer":[
{"mark":{"type":"text","align":"left","baseline":"alphabetic","font":"Liberation Serif","fontSize":25,"color":"#000"},"encoding":{"x":{"datum":0.1438,"axis":null},"text":{"field":"stat"}}},
{"mark":{"type":"text","align":"right","baseline":"alphabetic","font":"Liberation Serif","fontSize":25,"color":"#000"},"encoding":{"x":{"datum":0.2933,"axis":null},"text":{"field":"value"}}}]},
{"transform":[{"filter":"datum.stat==='Std Dev'"}],"encoding":{"y":{"datum":0.06063,"axis":null}},"layer":[
{"mark":{"type":"text","align":"left","baseline":"alphabetic","font":"Liberation Serif","fontSize":25,"color":"#000"},"encoding":{"x":{"datum":0.1438,"axis":null},"text":{"field":"stat"}}},
{"mark":{"type":"text","align":"right","baseline":"alphabetic","font":"Liberation Serif","fontSize":25,"color":"#000"},"encoding":{"x":{"datum":0.2933,"axis":null},"text":{"field":"value"}}}]}
]},
{"data":{"values":[{}]},
"layer":[
{"mark":{"type":"text","align":"left","baseline":"alphabetic","font":"Liberation Serif","fontStyle":"italic","fontSize":38,"color":"#000"},"encoding":{"x":{"datum":-0.079,"axis":null},"y":{"datum":-0.0116,"axis":null},"text":{"value":"(α"}}},
{"mark":{"type":"text","align":"left","baseline":"alphabetic","font":"Liberation Serif","fontStyle":"italic","fontSize":27,"color":"#000"},"encoding":{"x":{"datum":-0.047,"axis":null},"y":{"datum":-0.0127,"axis":null},"text":{"value":"1"}}},
{"mark":{"type":"text","align":"left","baseline":"alphabetic","font":"Liberation Serif","fontStyle":"italic","fontSize":38,"color":"#000"},"encoding":{"x":{"datum":-0.0252,"axis":null},"y":{"datum":-0.0116,"axis":null},"text":{"value":"· E"}}},
{"mark":{"type":"text","align":"left","baseline":"alphabetic","font":"Liberation Serif","fontStyle":"italic","fontSize":27,"color":"#000"},"encoding":{"x":{"datum":0.015,"axis":null},"y":{"datum":-0.0127,"axis":null},"text":{"value":"cluster"}}},
{"mark":{"type":"text","align":"left","baseline":"alphabetic","font":"Liberation Serif","fontStyle":"italic","fontSize":38,"color":"#000"},"encoding":{"x":{"datum":0.0941,"axis":null},"y":{"datum":-0.0116,"axis":null},"text":{"value":"− E"}}},
{"mark":{"type":"text","align":"left","baseline":"alphabetic","font":"Liberation Serif","fontStyle":"italic","fontSize":27,"color":"#000"},"encoding":{"x":{"datum":0.1497,"axis":null},"y":{"datum":-0.0127,"axis":null},"text":{"value":"true"}}},
{"mark":{"type":"text","align":"left","baseline":"alphabetic","font":"Liberation Serif","fontStyle":"italic","fontSize":38,"color":"#000"},"encoding":{"x":{"datum":0.1911,"axis":null},"y":{"datum":-0.0116,"axis":null},"text":{"value":")/E"}}},
{"mark":{"type":"text","align":"left","baseline":"alphabetic","font":"Liberation Serif","fontStyle":"italic","fontSize":27,"color":"#000"},"encoding":{"x":{"datum":0.2353,"axis":null},"y":{"datum":-0.0127,"axis":null},"text":{"value":"true"}}}
]}
]
}
